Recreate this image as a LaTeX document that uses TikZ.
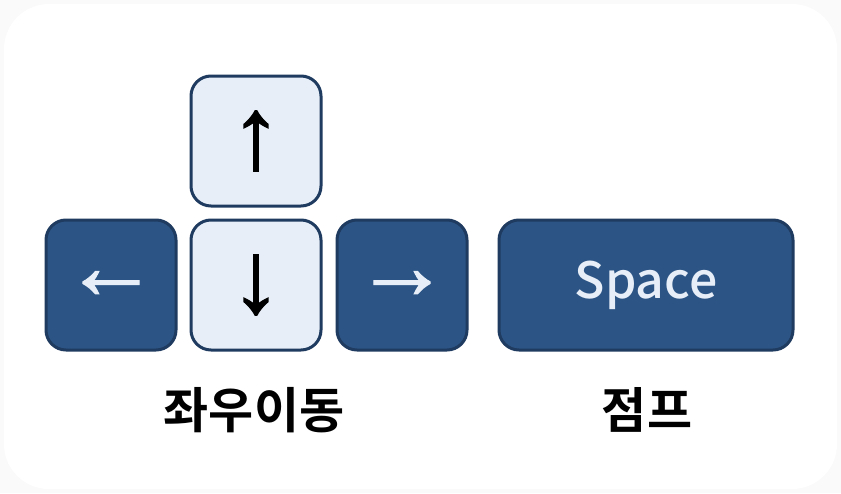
\documentclass[tikz,border=0pt]{standalone}
\usepackage{fontspec}
\newfontfamily\kr{Noto Sans CJK KR}[BoldFont={* Bold}]
\newfontfamily\krmed{Noto Sans CJK KR Medium}
\newfontfamily\arr{Liberation Sans}[FakeBold=1.2]
\definecolor{keyline}{HTML}{1F3B60}
\definecolor{keydark}{HTML}{2C5585}
\definecolor{keylight}{HTML}{E8EEF8}
\definecolor{bgout}{HTML}{FAFAFA}
\tikzset{
  keybox/.style={draw=keyline, line width=3pt, rounded corners=20pt, minimum width=#1, minimum height=130pt, inner sep=0pt},
  darkkey/.style={keybox=#1, fill=keydark, text=keylight},
  lightkey/.style={keybox=#1, fill=keylight, text=black},
  arrowglyph/.style={font=\arr\fontsize{#1}{#1}\selectfont},
  label/.style={font=\kr\bfseries\fontsize{49}{52}\selectfont, text=black, inner sep=0pt}
}
\begin{document}
\begin{tikzpicture}[x=1pt,y=-1pt]
\useasboundingbox (0,0) rectangle (841,493);
\fill[bgout] (0,0) rectangle (841,493);
\fill[white, rounded corners=45pt] (4,4) rectangle (837,489);
\node[lightkey=130pt, arrowglyph=102] (up) at (256,141) {\raisebox{-2pt}{↑}};
\node[darkkey=130pt, arrowglyph=95] (left) at (111,285) {\raisebox{-8pt}{←}};
\node[lightkey=130pt, arrowglyph=102] (down) at (256,285) {\raisebox{-5pt}{↓}};
\node[darkkey=130pt, arrowglyph=95] (right) at (402,285) {\raisebox{-8pt}{→}};
\node[darkkey=294pt] (space) at (646,285) {\raisebox{-3pt}{\krmed\fontsize{50}{54}\selectfont Space}};
\node[label] (lr) at (254,410) {좌우이동};
\node[label] (jump) at (647,410) {점프};
\end{tikzpicture}
\end{document}
